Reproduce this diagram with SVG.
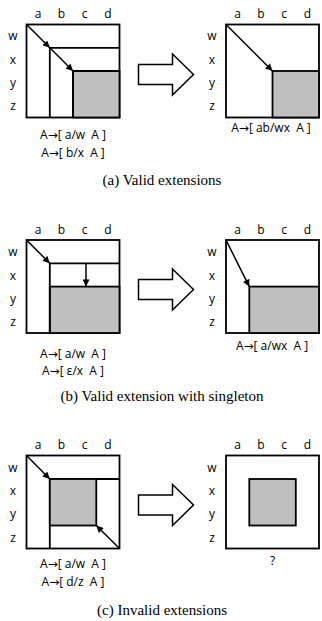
<svg xmlns="http://www.w3.org/2000/svg" width="322" height="621" viewBox="0 0 322 621">
<style>
.box{fill:#fff;stroke:#000;stroke-width:1.8}
.ln{fill:none;stroke:#000;stroke-width:1.8}
.g{fill:#bfbfbf;stroke:#000;stroke-width:1.8}
.lb{font-family:"Open Sans","Liberation Sans",sans-serif;font-size:12px;fill:#000;text-anchor:middle;white-space:pre}
.arr{font-family:"DejaVu Sans",sans-serif;font-size:12px}
.cap{font-family:"Liberation Serif","Times New Roman",serif;font-size:15px;fill:#000;text-anchor:middle}
.ar{fill:none;stroke:#000;stroke-width:1.5;marker-end:url(#ah)}
.big{fill:#fff;stroke:#000;stroke-width:1.5;stroke-linejoin:miter}
</style>
<defs>
<marker id="ah" viewBox="0 0 10 10" refX="10" refY="5" markerWidth="8" markerHeight="7" markerUnits="userSpaceOnUse" orient="auto">
<path d="M0,0 L10,5 L0,10 z" fill="#000"/>
</marker>
<path id="bigarrow" d="M0,-10 H34 V-20.5 L55,0 L34,20.5 V10 H0 Z"/>
</defs>

<!-- Panel (a) left -->
<g id="a-left">
<rect class="box" x="26.5" y="24.5" width="93" height="93"/>
<rect class="g" x="73" y="71" width="46.5" height="46.5"/>
<path class="ln" d="M49.8,117.5 V47.8 H119.5 M73,117.5 V71 H119.5"/>
<text class="lb" x="38.1" y="18">a</text><text class="lb" x="61.4" y="18">b</text><text class="lb" x="84.7" y="18">c</text><text class="lb" x="108" y="18">d</text>
<text class="lb" x="13" y="40">w</text><text class="lb" x="13" y="63.5">x</text><text class="lb" x="13" y="86.5">y</text><text class="lb" x="13" y="110">z</text>
<text class="lb" x="73" y="139">A<tspan class="arr">→</tspan>[ a/w  A ]</text>
<text class="lb" x="73" y="157">A<tspan class="arr">→</tspan>[ b/x  A ]</text>
</g>

<!-- Panel (a) right -->
<g id="a-right">
<rect class="box" x="226" y="24.5" width="93" height="93"/>
<rect class="g" x="272.5" y="71" width="46.5" height="46.5"/>
<text class="lb" x="237.6" y="18">a</text><text class="lb" x="260.9" y="18">b</text><text class="lb" x="284.2" y="18">c</text><text class="lb" x="307.5" y="18">d</text>
<text class="lb" x="212" y="40">w</text><text class="lb" x="212" y="63.5">x</text><text class="lb" x="212" y="86.5">y</text><text class="lb" x="212" y="110">z</text>
<text class="lb" x="271" y="132">A<tspan class="arr">→</tspan>[ ab/wx  A ]</text>
</g>
<text class="cap" x="162" y="185">(a) Valid extensions</text>

<!-- Panel (b) left -->
<g id="b-left">
<rect class="box" x="26.5" y="240" width="93" height="93"/>
<rect class="g" x="49.8" y="286.6" width="69.7" height="46.4"/>
<path class="ln" d="M49.8,333 V263.3 H119.5"/>
<text class="lb" x="38.1" y="233.5">a</text><text class="lb" x="61.4" y="233.5">b</text><text class="lb" x="84.7" y="233.5">c</text><text class="lb" x="108" y="233.5">d</text>
<text class="lb" x="13" y="256">w</text><text class="lb" x="13" y="279.5">x</text><text class="lb" x="13" y="302.5">y</text><text class="lb" x="13" y="326">z</text>
<text class="lb" x="73" y="357.5">A<tspan class="arr">→</tspan>[ a/w  A ]</text>
<text class="lb" x="73" y="374.5">A<tspan class="arr">→</tspan>[ ε/x  A ]</text>
</g>

<!-- Panel (b) right -->
<g id="b-right">
<rect class="box" x="226" y="240" width="93" height="93"/>
<rect class="g" x="249.3" y="286.6" width="69.7" height="46.4"/>
<text class="lb" x="237.6" y="233.5">a</text><text class="lb" x="260.9" y="233.5">b</text><text class="lb" x="284.2" y="233.5">c</text><text class="lb" x="307.5" y="233.5">d</text>
<text class="lb" x="212" y="256">w</text><text class="lb" x="212" y="279.5">x</text><text class="lb" x="212" y="302.5">y</text><text class="lb" x="212" y="326">z</text>
<text class="lb" x="272" y="350">A<tspan class="arr">→</tspan>[ a/wx  A ]</text>
</g>
<text class="cap" x="162" y="401">(b) Valid extension with singleton</text>

<!-- Panel (c) left -->
<g id="c-left">
<rect class="box" x="26.5" y="455.5" width="93" height="93"/>
<path class="ln" d="M49.8,548.5 V479 H119.5"/>
<rect class="g" x="49.8" y="479" width="46.5" height="46.5"/>
<text class="lb" x="38.1" y="449">a</text><text class="lb" x="61.4" y="449">b</text><text class="lb" x="84.7" y="449">c</text><text class="lb" x="108" y="449">d</text>
<text class="lb" x="13" y="471.5">w</text><text class="lb" x="13" y="495">x</text><text class="lb" x="13" y="518">y</text><text class="lb" x="13" y="541.5">z</text>
<text class="lb" x="73" y="568">A<tspan class="arr">→</tspan>[ a/w  A ]</text>
<text class="lb" x="73" y="586">A<tspan class="arr">→</tspan>[ d/z  A ]</text>
</g>

<!-- Panel (c) right -->
<g id="c-right">
<rect class="box" x="226" y="455.5" width="93" height="93"/>
<rect class="g" x="249.3" y="479" width="46.5" height="46.5"/>
<text class="lb" x="237.6" y="449">a</text><text class="lb" x="260.9" y="449">b</text><text class="lb" x="284.2" y="449">c</text><text class="lb" x="307.5" y="449">d</text>
<text class="lb" x="212" y="471.5">w</text><text class="lb" x="212" y="495">x</text><text class="lb" x="212" y="518">y</text><text class="lb" x="212" y="541.5">z</text>
<text class="lb" x="272.5" y="565">?</text>
</g>
<text class="cap" x="162" y="615">(c) Invalid extensions</text>

<!-- Connectors -->
<g id="connectors">
<line class="ar" x1="26.5" y1="24.5" x2="49.8" y2="47.8"/>
<line class="ar" x1="49.8" y1="47.8" x2="73" y2="71"/>
<line class="ar" x1="226" y1="24.5" x2="272.5" y2="71"/>
<line class="ar" x1="26.5" y1="240" x2="49.8" y2="263.3"/>
<line class="ar" x1="86" y1="263.3" x2="86" y2="286.6"/>
<line class="ar" x1="226" y1="240" x2="249.3" y2="286.6"/>
<line class="ar" x1="26.5" y1="455.5" x2="49.8" y2="479"/>
<line class="ar" x1="119.5" y1="548.5" x2="96.3" y2="525.5"/>
<use href="#bigarrow" class="big" x="138.5" y="74.5"/>
<use href="#bigarrow" class="big" x="138.5" y="289.5"/>
<use href="#bigarrow" class="big" x="138.5" y="505"/>
</g>
</svg>
